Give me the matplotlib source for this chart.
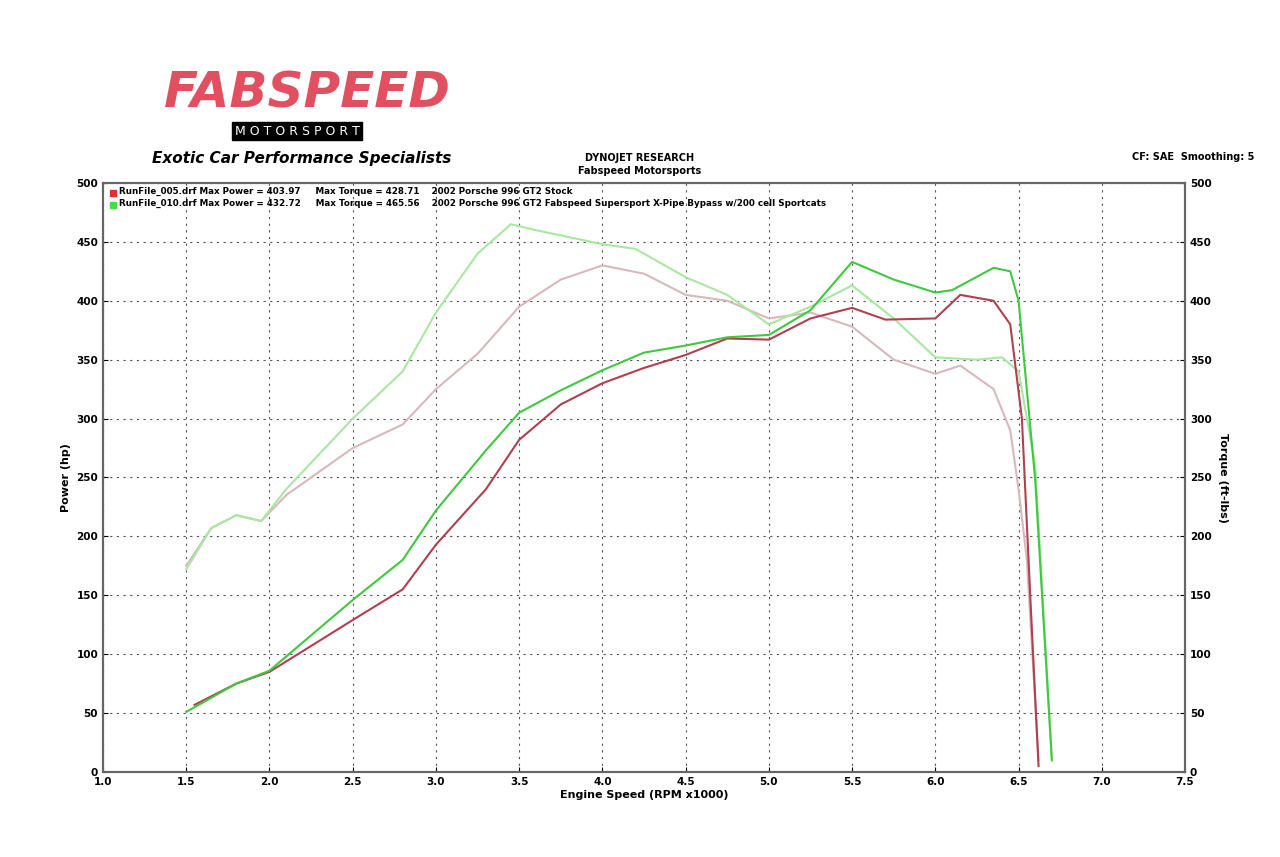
import matplotlib
matplotlib.use("Agg")
import matplotlib.pyplot as plt

rpm_p_stock = [1.55,1.8,2.0,2.5,2.8,3.0,3.3,3.5,3.75,4.0,4.25,4.5,4.75,5.0,5.25,5.5,5.7,6.0,6.15,6.35,6.45,6.52,6.57,6.62]
hp_stock    = [57,75,85,129,155,193,240,282,312,330,343,354,368,367,385,394,384,385,405,400,380,300,150,5]
rpm_p_fab   = [1.5,1.8,2.0,2.5,2.8,3.0,3.3,3.5,3.75,4.0,4.25,4.5,4.75,5.0,5.25,5.5,5.75,6.0,6.1,6.35,6.45,6.5,6.6,6.7]
hp_fab      = [51,75,86,146,180,222,273,305,324,341,356,362,369,371,392,433,418,407,409,428,425,400,248,10]
rpm_t_stock = [1.5,1.65,1.8,1.95,2.1,2.5,2.8,3.0,3.25,3.5,3.75,4.0,4.25,4.5,4.75,5.0,5.25,5.5,5.75,6.0,6.15,6.35,6.45,6.5,6.55,6.62]
tq_stock    = [175,207,218,213,235,275,295,325,355,395,418,430,423,405,400,385,390,378,350,338,345,325,290,240,180,10]
rpm_t_fab   = [1.5,1.65,1.8,1.95,2.1,2.5,2.8,3.0,3.25,3.45,3.6,4.0,4.2,4.5,4.75,5.0,5.25,5.5,5.75,6.0,6.25,6.4,6.5,6.6,6.7]
tq_fab      = [172,207,218,213,240,300,340,390,440,465,460,448,444,420,405,380,395,413,385,352,350,352,340,260,10]

fig = plt.figure(figsize=(12.8, 8.57), dpi=100)
ax = fig.add_axes([0.0805, 0.0992, 0.8453, 0.6873])
ax.plot(rpm_t_stock, tq_stock, color="#d8b8bc", lw=1.5)
ax.plot(rpm_t_fab, tq_fab, color="#a8e8a0", lw=1.5)
ax.plot(rpm_p_stock, hp_stock, color="#b04050", lw=1.5)
ax.plot(rpm_p_fab, hp_fab, color="#40c840", lw=1.5)
ax.set_xlim(1.0, 7.5); ax.set_ylim(0, 500)
ax.set_xticks([1.0+0.5*i for i in range(14)])
ax.set_yticks(range(0, 501, 50))
ax.grid(True, color="#555555", ls=(0, (2, 4)), lw=0.8)
ax.tick_params(labelsize=7.5, direction="in")
for lbl in ax.get_xticklabels() + ax.get_yticklabels():
    lbl.set_fontweight("bold")
ax.set_xlabel("Engine Speed (RPM x1000)", fontsize=8, fontweight="bold", labelpad=2)
ax.set_ylabel("Power (hp)", fontsize=8, fontweight="bold")
ax2 = ax.twinx(); ax2.set_ylim(0, 500); ax2.set_yticks(range(0, 501, 50))
ax2.tick_params(labelsize=7.5, direction="in")
for lbl in ax2.get_yticklabels(): lbl.set_fontweight("bold")
ax2.set_ylabel("Torque (ft-lbs)", fontsize=8, fontweight="bold", rotation=270, labelpad=12)
for a in (ax, ax2):
    for s in a.spines.values(): s.set_color("#666666"); s.set_linewidth(1.5)

ax.text(0.015, 0.993, "RunFile_005.drf Max Power = 403.97     Max Torque = 428.71    2002 Porsche 996 GT2 Stock",
        transform=ax.transAxes, fontsize=6.3, fontweight="bold", va="top")
ax.text(0.015, 0.973, "RunFile_010.drf Max Power = 432.72     Max Torque = 465.56    2002 Porsche 996 GT2 Fabspeed Supersport X-Pipe Bypass w/200 cell Sportcats",
        transform=ax.transAxes, fontsize=6.3, fontweight="bold", va="top")
ax.plot([1.06], [491.5], "s", color="#e03030", ms=4.5)
ax.plot([1.06], [481.5], "s", color="#40e040", ms=4.5)

fig.text(0.5, 0.812, "DYNOJET RESEARCH", ha="center", fontsize=7, fontweight="bold")
fig.text(0.5, 0.797, "Fabspeed Motorsports", ha="center", fontsize=7, fontweight="bold")
fig.text(0.98, 0.813, "CF: SAE  Smoothing: 5", ha="right", fontsize=7, fontweight="bold")
fig.text(0.24, 0.875, "FABSPEED", ha="center", fontsize=36, fontweight="bold", style="italic", color="#e05060")
fig.text(0.232, 0.843, "M O T O R S P O R T", ha="center", fontsize=9, color="white",
         bbox=dict(facecolor="black", edgecolor="black", pad=2))
fig.text(0.236, 0.81, "Exotic Car Performance Specialists", ha="center", fontsize=11, style="italic", fontweight="bold")
fig.savefig("out.png", dpi=100)
